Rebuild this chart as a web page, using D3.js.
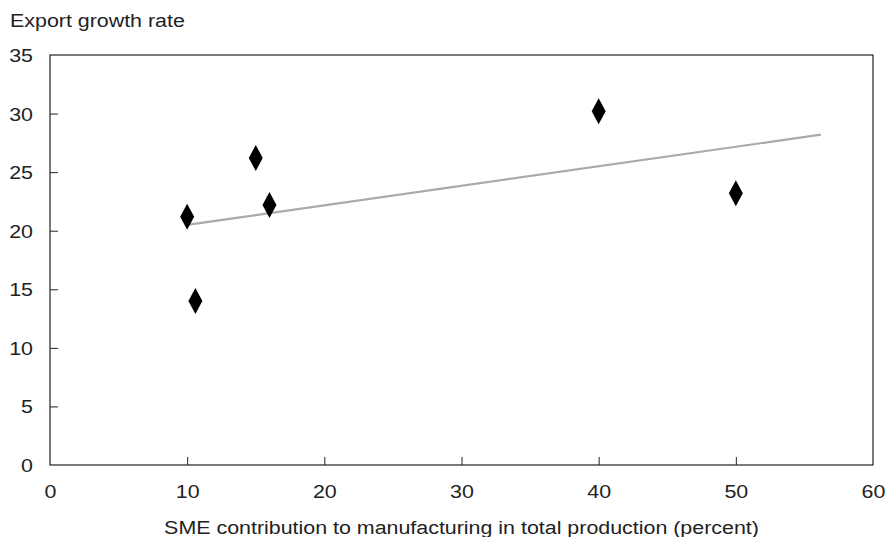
<!DOCTYPE html>
<html>
<head>
<meta charset="utf-8">
<script src="https://cdn.jsdelivr.net/npm/d3@7"></script>
<style>
  body { margin: 0; background: #fff; }
  text { font-family: "Liberation Sans", Arial, sans-serif; fill: #222; }
</style>
</head>
<body>
<svg width="888" height="537"></svg>
<script>
// data
let smeShare = [10, 10.6, 15, 16, 40, 50];
let exportGrowth = [21.2, 14.0, 26.2, 22.2, 30.2, 23.2];
let trendX = [10, 56.2];
let trendY = [20.5, 28.2];
let xTicks = [0, 10, 20, 30, 40, 50, 60];
let yTicks = [0, 5, 10, 15, 20, 25, 30, 35];

let svg = d3.select("svg");
let plotLeft = 50, plotRight = 873, plotTop = 55, plotBottom = 465;
let stretch = 1.19; // the type in the original is a little wide

let xScale = d3.scaleLinear().domain([0, 60]).range([plotLeft, plotRight]);
let yScale = d3.scaleLinear().domain([0, 35]).range([plotBottom, plotTop]);

// frame
svg.append("rect")
  .attr("x", plotLeft).attr("y", plotTop)
  .attr("width", plotRight - plotLeft).attr("height", plotBottom - plotTop)
  .attr("fill", "none").attr("stroke", "#222").attr("stroke-width", 1.2);

// x axis, ticks pointing inward
let xAxis = svg.append("g")
  .attr("transform", "translate(0," + plotBottom + ")")
  .call(d3.axisTop(xScale).tickValues(xTicks).tickSize(8).tickFormat(d3.format("d")));
xAxis.select(".domain").remove();
xAxis.selectAll(".tick line").attr("stroke", "#222");
xAxis.selectAll(".tick text")
  .attr("y", 33)
  .attr("transform", "scale(" + stretch + ",1)")
  .style("font-size", "18px");
xAxis.selectAll(".tick").filter(d => d === 0 || d === 60).select("line").remove();

// y axis, ticks pointing inward
let yAxis = svg.append("g")
  .attr("transform", "translate(" + plotLeft + ",0)")
  .call(d3.axisRight(yScale).tickValues(yTicks).tickSize(8).tickFormat(d3.format("d")));
yAxis.select(".domain").remove();
yAxis.selectAll(".tick line").attr("stroke", "#222");
yAxis.selectAll(".tick text")
  .attr("x", -17 / stretch)
  .attr("dy", "0.36em")
  .attr("text-anchor", "end")
  .attr("transform", "scale(" + stretch + ",1)")
  .style("font-size", "18px");
yAxis.selectAll(".tick").filter(d => d === 0 || d === 35).select("line").remove();

// trend line
svg.append("line")
  .attr("x1", xScale(trendX[0])).attr("y1", yScale(trendY[0]))
  .attr("x2", xScale(trendX[1])).attr("y2", yScale(trendY[1]))
  .attr("stroke", "#aaa").attr("stroke-width", 2.2);

// diamonds
svg.selectAll("path.pt")
  .data(smeShare)
  .enter()
  .append("path")
  .attr("class", "pt")
  .attr("d", "M0,-13L7,0L0,13L-7,0Z")
  .attr("transform", function (d, i) {
    return "translate(" + xScale(d) + "," + yScale(exportGrowth[i]) + ")";
  })
  .attr("fill", "#000");

// titles
svg.append("text")
  .attr("transform", "translate(10,27) scale(" + stretch + ",1)")
  .style("font-size", "18px")
  .text("Export growth rate");

svg.append("text")
  .attr("transform", "translate(" + (plotLeft + plotRight) / 2 + ",534) scale(" + stretch + ",1)")
  .attr("text-anchor", "middle")
  .style("font-size", "18px")
  .text("SME contribution to manufacturing in total production (percent)");
</script>
</body>
</html>
